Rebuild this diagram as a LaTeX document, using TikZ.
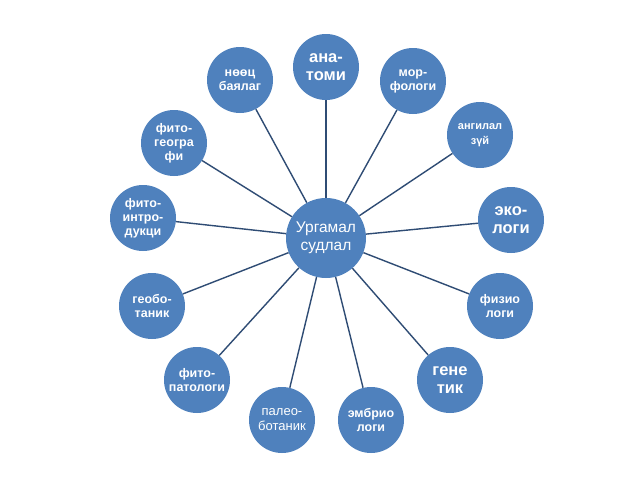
\documentclass[tikz,border=0pt]{standalone}
\usepackage{fontspec}
\setmainfont{Liberation Sans}
\definecolor{nodeblue}{HTML}{4F81BD}
\definecolor{linkc}{HTML}{2F4C74}
\begin{document}
\begin{tikzpicture}[x=1pt,y=-1pt,
  bub/.style={circle, fill=nodeblue, minimum size=66pt, inner sep=0pt, text=white, align=center, font=\bfseries\fontsize{12.5}{14}\selectfont},
  big/.style={font=\bfseries\fontsize{16.5}{18.5}\selectfont},
  plain/.style={font=\fontsize{13}{15}\selectfont},
  link/.style={draw=linkc, line width=1.4pt}]
\useasboundingbox (0,0) rectangle (638,479);
\fill[white] (0,0) rectangle (638,479);
\node[bub, minimum size=80pt, font=\fontsize{15.5}{18}\selectfont] (c) at (326,238) {Ургамал\\судлал};
\node[bub, big] (anat) at (326,67) {ана-\\томи};
\node[bub] (noots) at (240,80) {нөөц\\баялаг};
\node[bub] (morf) at (413,81) {мор-\\фологи};
\node[bub] (geog) at (174,143) {фито-\\геогра\\фи};
\node[bub] (intro) at (143,218) {фито-\\интро-\\дукци};
\node[bub, font=\bfseries\fontsize{11}{15}\selectfont] (angi) at (480,135) {ангилал\\зүй};
\node[bub, big] (eko) at (511,220) {эко-\\логи};
\node[bub] (geob) at (152,306) {геобо-\\таник};
\node[bub] (pat) at (197,380) {фито-\\патологи};
\node[bub, plain] (paleo) at (282,420) {палео-\\ботаник};
\node[bub] (embr) at (371,420) {эмбрио\\логи};
\node[bub] (fiz) at (500,306) {физио\\логи};
\node[bub, big] (gen) at (450,380) {гене\\тик};
\foreach \n in {anat,noots,morf,geog,intro,angi,eko,geob,pat,paleo,embr,fiz,gen}
  \draw[link] (c) -- (\n);
\end{tikzpicture}
\end{document}
